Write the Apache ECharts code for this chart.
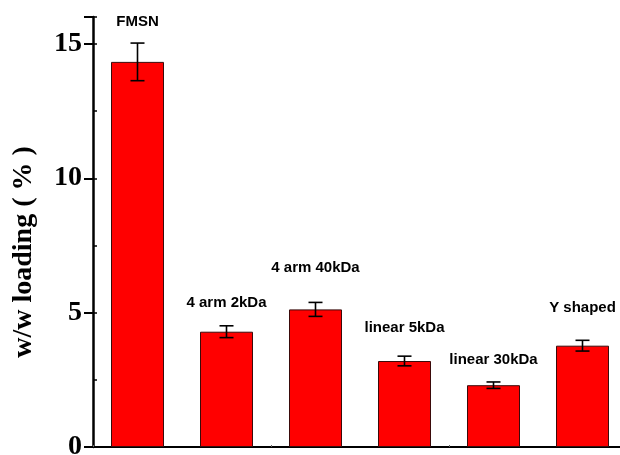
<!DOCTYPE html>
<html>
<head>
<meta charset="utf-8">
<script src="https://cdn.jsdelivr.net/npm/echarts@6/dist/echarts.min.js"></script>
<style>html,body{margin:0;padding:0;background:#fff}#c{width:620px;height:455px}</style>
</head>
<body>
<div id="c"></div>
<script>
var categories = ['FMSN', '4 arm 2kDa', '4 arm 40kDa', 'linear 5kDa', 'linear 30kDa', 'Y shaped'];
var loading = [14.33, 4.29, 5.12, 3.20, 2.30, 3.77];
var errors = [0.70, 0.22, 0.26, 0.18, 0.12, 0.20];
var labelAt = [15.81, 5.37, 6.67, 4.43, 3.24, 5.17];
var yTicks = [0, 5, 10, 15];

var chart = echarts.init(document.getElementById('c'));
var serif = '"Liberation Serif", "Times New Roman", serif';
var sans = '"Liberation Sans", Arial, sans-serif';

chart.setOption({
  animation: false,
  grid: { left: 93, right: -7, top: 17, bottom: 8, containLabel: false, outerBoundsMode: 'none' },
  xAxis: {
    type: 'category',
    data: categories,
    axisLine: { lineStyle: { color: '#000', width: 2 } },
    axisTick: { show: true, inside: true, length: 2, lineStyle: { color: '#666', width: 1 } },
    axisLabel: { show: false },
    splitLine: { show: false }
  },
  yAxis: [{
    type: 'value',
    min: 0, max: 16, interval: 5,
    name: 'w/w loading ( % )',
    nameLocation: 'middle',
    nameGap: 55,
    nameRotate: 90,
    nameTextStyle: { fontFamily: serif, fontWeight: 'bold', fontSize: 28, color: '#000', padding: [0, 0, 0, -40] },
    axisLine: { show: true, lineStyle: { color: '#000', width: 2.5 } },
    axisTick: { show: true, length: 9, lineStyle: { color: '#000', width: 2 } },
    axisLabel: {
      fontFamily: serif, fontWeight: 'bold', fontSize: 28, color: '#000', margin: 11,
      formatter: function (v) { return yTicks.indexOf(v) >= 0 ? String(v) : ''; }
    },
    splitLine: { show: false }
  }, {
    type: 'value',
    min: 0, max: 16, interval: 2.5,
    position: 'left',
    axisLine: { show: false },
    axisTick: { show: true, inside: true, length: 4, lineStyle: { color: '#000', width: 1.5 } },
    axisLabel: { show: false },
    splitLine: { show: false }
  }],
  series: [{
    type: 'bar',
    data: loading,
    barWidth: 53,
    itemStyle: { color: '#ff0000', borderColor: '#3a0a0a', borderWidth: 1 }
  }, {
    type: 'custom',
    data: loading.map(function (v, i) { return [i, v - errors[i], v + errors[i]]; }),
    renderItem: function (params, api) {
      var lo = api.coord([api.value(0), api.value(1)]);
      var hi = api.coord([api.value(0), api.value(2)]);
      var hw = 7;
      var st = { stroke: '#000', lineWidth: 1.6 };
      return {
        type: 'group',
        children: [
          { type: 'line', shape: { x1: lo[0], y1: lo[1], x2: hi[0], y2: hi[1] }, style: st },
          { type: 'line', shape: { x1: lo[0] - hw, y1: lo[1], x2: lo[0] + hw, y2: lo[1] }, style: st },
          { type: 'line', shape: { x1: hi[0] - hw, y1: hi[1], x2: hi[0] + hw, y2: hi[1] }, style: st }
        ]
      };
    },
    z: 5
  }, {
    type: 'custom',
    data: labelAt.map(function (v, i) { return [i, v]; }),
    renderItem: function (params, api) {
      var p = api.coord([api.value(0), api.value(1)]);
      return {
        type: 'text',
        x: p[0], y: p[1],
        style: {
          text: categories[params.dataIndex],
          fill: '#000',
          font: 'bold 15px ' + sans,
          align: 'center',
          verticalAlign: 'middle'
        }
      };
    },
    z: 6
  }]
});
</script>
</body>
</html>
